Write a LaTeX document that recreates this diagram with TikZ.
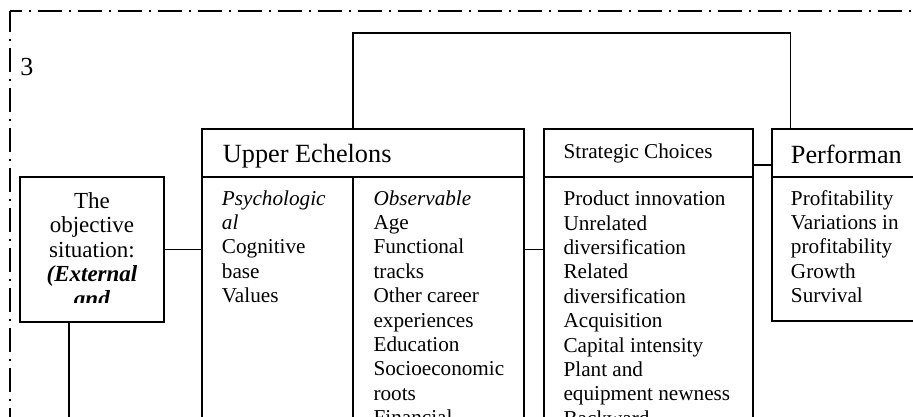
\documentclass[tikz,border=0pt]{standalone}
\usepackage{fontspec}
\setmainfont{Liberation Serif}
\usetikzlibrary{fit}
\begin{document}
\begin{tikzpicture}[x=0.75pt,y=-0.75pt,
  box/.style={draw, line width=1.3pt, inner sep=0pt},
  conn/.style={line width=0.9pt},
  border/.style={line width=1.1pt, dash pattern=on 18pt off 5.25pt on 1.5pt off 5.25pt},
  txt/.style={anchor=base west, inner sep=0pt},
  bodyf/.style={font=\fontsize{15.9pt}{18.3pt}\selectfont},
  headf/.style={font=\fontsize{19.7pt}{22pt}\selectfont}]
\useasboundingbox (0,0) rectangle (913,417);
\clip (0,0) rectangle (913,417);
\fill[white] (0,0) rectangle (913,417);

% dash-dot frame
\coordinate (corner) at (10,11);
\coordinate (frameR) at (940,11);
\coordinate (frameB) at (10,440);
\draw[border, dash phase=9pt] (corner) -- (frameR);
\draw[border, dash phase=2.25pt] (corner) -- (frameB);

\node[txt, font=\fontsize{19.5pt}{22pt}\selectfont] (num) at (20,76) {3};

% boxes
\node[box, fit={(20,177) (164,321.7)}] (obj) {};
\node[box, fit={(202,129) (524,177)}] (uehead) {};
\node[box, fit={(202,177) (524,440)}] (uebody) {};
\node[box, fit={(544,129) (752.7,177)}] (strathead) {};
\node[box, fit={(544,177) (752.7,440)}] (stratbody) {};
\node[box, fit={(771.7,129) (940,177)}] (perfhead) {};
\node[box, fit={(771.7,177) (940,321)}] (perfbody) {};

% divider inside Upper Echelons
\coordinate (div) at (353,177);
\draw[box] (div) -- (div |- uebody.south);

% connectors
\draw[conn] (obj.east) -- (obj.east -| uebody.west);
\draw[conn] (uebody.east |- obj.east) -- (stratbody.west |- obj.east);
\coordinate (spy) at (760,165);
\draw[conn] (strathead.east |- spy) -- (perfhead.west |- spy);
\coordinate (lt) at (353,33);
\coordinate (rt) at (790.7,33);
\draw[conn] (uehead.north -| lt) -- (lt) -- (rt) -- (perfhead.north -| rt);
\coordinate (od) at (69,440);
\draw[conn] (obj.south -| od) -- (od);

% headers
\node[txt, headf] (uetitle) at (222.7,162) {Upper Echelons};
\node[txt, bodyf] (strattitle) at (563.3,158.3) {Strategic Choices};
\node[txt, headf] (perftitle) at (790.7,163.3) {Performan};

% objective text (clipped inside its box)
\begin{scope}
\clip (21,178) rectangle (163,302.5);
\node[anchor=base, inner sep=0pt, font=\fontsize{17.25pt}{18.4pt}\selectfont] (objtext) at (92,208.3)
  {\parbox[t]{105pt}{\centering The\\objective\\situation:\\\textbf{\textit{(External}}\\\textbf{\textit{and}}}};
\end{scope}

% column texts
\node[txt, bodyf] (psytext) at (221.7,205)
  {\parbox[t]{100pt}{\raggedright\textit{Psychologic}\\\textit{al}\\Cognitive\\base\\Values}};
\node[txt, bodyf] (obstext) at (373.3,205)
  {\parbox[t]{120pt}{\raggedright\textit{Observable}\\Age\\Functional\\tracks\\Other career\\experiences\\Education\\Socioeconomic\\roots\\Financial}};
\node[txt, bodyf] (strattext) at (563.3,205.7)
  {\parbox[t]{150pt}{\raggedright Product innovation\\Unrelated\\diversification\\Related\\diversification\\Acquisition\\Capital intensity\\Plant and\\equipment newness\\Backward}};
\node[txt, bodyf] (perftext) at (790.7,205)
  {\parbox[t]{120pt}{\raggedright Profitability\\Variations in\\profitability\\Growth\\Survival}};
\end{tikzpicture}
\end{document}
